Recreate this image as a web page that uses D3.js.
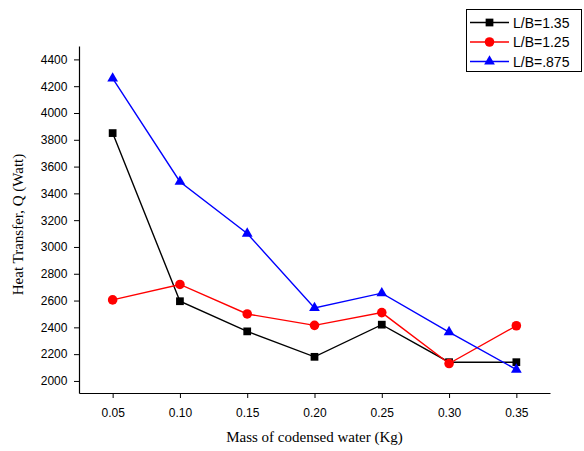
<!DOCTYPE html>
<html>
<head>
<meta charset="utf-8">
<script src="https://cdn.jsdelivr.net/npm/d3@7/dist/d3.min.js"></script>
<style>
  html, body { margin: 0; padding: 0; background: #fff; }
  svg { display: block; }
</style>
</head>
<body>
<script>
// Condensed-water mass (kg) against heat transfer Q (W) for three L/B ratios
const mass = [0.05, 0.10, 0.15, 0.20, 0.25, 0.30, 0.35];
const q135 = [3850, 2595, 2370, 2180, 2420, 2140, 2140];
const q125 = [2605, 2720, 2500, 2415, 2510, 2130, 2412];
const q0875 = [4258, 3487, 3100, 2545, 2655, 2365, 2085];
const seriesNames = ["L/B=1.35", "L/B=1.25", "L/B=.875"];
const xTicks = [0.05, 0.10, 0.15, 0.20, 0.25, 0.30, 0.35];
const yTicks = [2000, 2200, 2400, 2600, 2800, 3000, 3200, 3400, 3600, 3800, 4000, 4200, 4400];

const W = 584, H = 451;
const plotL = 79, plotR = 550, plotT = 46, plotB = 393;

const svg = d3.select("body").append("svg").attr("width", W).attr("height", H);

const x = d3.scaleLinear().domain([0.025, 0.375]).range([plotL, plotR]);
const y = d3.scaleLinear().domain([1910, 4500]).range([plotB, plotT]);

// axes with minor ticks
const xMinor = d3.range(0.025, 0.3751, 0.025);
const yMinor = d3.range(2000, 4500, 100);

const gx = svg.append("g").attr("transform", `translate(0,${plotB})`);
gx.call(d3.axisBottom(x).tickValues(xMinor).tickSize(3).tickFormat(""));
gx.call(d3.axisBottom(x).tickValues(xTicks).tickSize(5).tickSizeOuter(0).tickFormat(d3.format(".2f")));
const gy = svg.append("g").attr("transform", `translate(${plotL},0)`);
gy.call(d3.axisLeft(y).tickValues(yMinor).tickSize(3).tickFormat(""));
gy.call(d3.axisLeft(y).tickValues(yTicks).tickSize(5).tickSizeOuter(0).tickFormat(d3.format("d")));

svg.selectAll(".domain").attr("stroke", "#000").attr("stroke-width", 1.2);
svg.selectAll(".tick line").attr("stroke", "#000").attr("stroke-width", 1);
svg.selectAll(".tick text")
  .attr("font-family", "'Liberation Sans', Arial, sans-serif")
  .attr("font-size", 12)
  .attr("fill", "#000");
gx.selectAll(".tick text").attr("dy", "1.3em");
gy.selectAll(".tick text").attr("dx", "-0.3em");

// axis titles
svg.append("text")
  .attr("x", (plotL + plotR) / 2).attr("y", 442)
  .attr("text-anchor", "middle")
  .attr("font-family", "'Liberation Serif', 'Times New Roman', serif")
  .attr("font-size", 15)
  .text("Mass of codensed water (Kg)");
svg.append("text")
  .attr("transform", `translate(23,${(plotT + plotB) / 2 + 5}) rotate(-90)`)
  .attr("text-anchor", "middle")
  .attr("font-family", "'Liberation Serif', 'Times New Roman', serif")
  .attr("font-size", 15)
  .text("Heat Transfer, Q (Watt)");

const series = [
  { name: seriesNames[0], values: q135, color: "#000000", symbol: d3.symbolSquare, size: 60 },
  { name: seriesNames[1], values: q125, color: "#ff0000", symbol: d3.symbolCircle, size: 72 },
  { name: seriesNames[2], values: q0875, color: "#0000ff", symbol: d3.symbolTriangle, size: 50 }
];

const line = d3.line().x(d => x(d[0])).y(d => y(d[1]));

series.forEach(s => {
  const pts = mass.map((m, i) => [m, s.values[i]]);
  svg.append("path")
    .attr("d", line(pts))
    .attr("fill", "none")
    .attr("stroke", s.color)
    .attr("stroke-width", 1.4);
  svg.append("g").selectAll("path")
    .data(pts)
    .join("path")
    .attr("transform", d => `translate(${x(d[0])},${y(d[1])})`)
    .attr("d", d3.symbol().type(s.symbol).size(s.size))
    .attr("fill", s.color);
});

// legend
const lg = svg.append("g");
lg.append("rect")
  .attr("x", 466.5).attr("y", 9.5).attr("width", 115).attr("height", 62)
  .attr("fill", "#fff").attr("stroke", "#000").attr("stroke-width", 1);
series.forEach((s, i) => {
  const cy = 22.5 + i * 19.5;
  lg.append("line")
    .attr("x1", 470).attr("x2", 509).attr("y1", cy).attr("y2", cy)
    .attr("stroke", s.color).attr("stroke-width", 1.4);
  lg.append("path")
    .attr("transform", `translate(489.5,${cy})`)
    .attr("d", d3.symbol().type(s.symbol).size(s.size))
    .attr("fill", s.color);
  lg.append("text")
    .attr("x", 513).attr("y", cy + 5)
    .attr("font-family", "'Liberation Sans', Arial, sans-serif")
    .attr("font-size", 14)
    .text(s.name);
});
</script>
</body>
</html>
